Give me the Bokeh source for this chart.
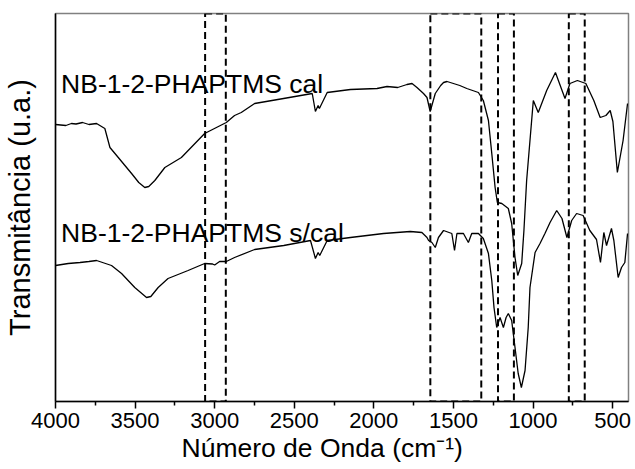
from bokeh.plotting import figure
from bokeh.models import Range1d, FixedTicker, ColumnDataSource, Title
from bokeh.core.properties import value
from bokeh.embed import file_html
from bokeh.resources import INLINE

# ---- data (wavenumber cm^-1, transmittance a.u.) ----
wn_cal = [4000, 3935, 3900, 3871, 3830, 3790, 3742, 3690, 3658, 3616, 3522, 3477, 3439, 3414, 3376, 3313, 3209,
          3063, 2927, 2875, 2833, 2749, 2567, 2387, 2367, 2350, 2342, 2293, 2147, 1980,
          1917, 1850, 1792, 1760, 1729, 1688, 1666, 1646, 1614, 1580, 1562, 1540, 1500, 1460, 1416, 1343, 1312, 1280,
          1259, 1238, 1224, 1196, 1155, 1134, 1113, 1096, 1071, 1057, 1040, 998, 967,
          914, 859, 799, 768, 721, 668, 618, 578, 542, 515, 498, 470, 434, 406]
t_cal = [277, 276, 278, 277.5, 279, 277, 278, 273, 254, 246, 228, 219, 214, 215, 221, 234, 244,
         268, 279, 286, 289, 298, 303, 308, 290, 296, 293, 309, 312, 313,
         315, 314, 317, 318, 314, 308, 304, 290, 308, 316, 319, 320, 318, 316, 313, 309, 301, 281,
         248, 214, 199, 198, 193, 178, 144, 126, 138, 171, 221, 301, 289,
         311, 329, 303, 318, 321, 318, 301, 284, 286, 291, 280, 229, 261, 298]

wn_scal = [4000, 3920, 3846, 3790, 3742, 3648, 3585, 3502, 3428, 3401, 3355, 3293, 3167, 3063, 3013,
           3000, 2969, 2927, 2875, 2749, 2566, 2398, 2367, 2350, 2340, 2293, 2147, 1939,
           1771, 1698, 1666, 1656, 1635, 1614, 1594, 1562, 1510, 1493, 1478, 1437, 1406,
           1385, 1343, 1312, 1280, 1259, 1245, 1228, 1207, 1186, 1169, 1155, 1134, 1113,
           1093, 1073, 1050, 1030, 1019, 987, 956, 925, 893, 851, 818, 787, 757, 726,
           685, 643, 601, 576, 555, 538, 507, 492, 465, 444, 423, 406]
t_scal = [136, 138, 139, 140, 141, 136, 128, 114, 104, 105, 114, 123, 131, 138, 137.5,
          136.5, 140, 140, 144, 152, 156, 161, 143, 149, 146, 161, 164, 168,
          170, 169, 164, 161, 159, 154, 164, 171, 168, 151, 168, 168, 159,
          168, 168, 163, 148, 121, 94, 74, 84, 74, 84, 88, 81, 54,
          28, 14, 31, 74, 114, 149, 158, 168, 179, 191, 183, 164, 181, 188,
          186, 171, 162, 139, 169, 156, 173, 161, 124, 134, 139, 168]

box_left = [3060, 1645, 1220, 775]
box_right = [2930, 1325, 1120, 675]

labels = ["NB-1-2-PHAPTMS cal", "NB-1-2-PHAPTMS s/cal"]
label_x = [3965, 3965]
label_y = [318, 169]

x_ticks = [4000, 3500, 3000, 2500, 2000, 1500, 1000, 500]
x_minor = [3750, 3250, 2750, 2250, 1750, 1250, 750]

x_title = "Número de Onda (cm⁻¹)"
y_title = "Transmitância (u.a.)"

FONT = "Liberation Sans"

p = figure(width=635, height=469, output_backend="svg", toolbar_location=None,
           x_range=Range1d(4000, 400), y_range=Range1d(0, 388),
           min_border_left=54, min_border_right=7, min_border_top=13, min_border_bottom=68)
p.background_fill_color = "white"
p.border_fill_color = "white"
p.grid.visible = False
p.outline_line_color = "#808080"
p.outline_line_width = 1.5

# spectra
p.line(wn_cal, t_cal, line_color="black", line_width=1.3)
p.line(wn_scal, t_scal, line_color="black", line_width=1.3)

# dashed boxes
ymin, ymax = 0, 388
p.quad(left=box_left, right=box_right, bottom=[ymin] * len(box_left), top=[ymax] * len(box_left),
       fill_alpha=0, line_color="black", line_width=2, line_dash="7 4")

# labels
src = ColumnDataSource(dict(x=label_x, y=label_y, t=labels))
p.text(x="x", y="y", text="t", source=src, text_font=value(FONT), text_font_size="26.5px",
       text_align="left", text_baseline="alphabetic", text_color="black")

# x axis
xa = p.xaxis[0]
xa.ticker = FixedTicker(ticks=x_ticks, minor_ticks=x_minor)
xa.axis_line_color = "black"
xa.axis_line_width = 1.5
xa.major_tick_out = 7
xa.major_tick_in = 0
xa.minor_tick_out = 4
xa.minor_tick_in = 0
xa.major_tick_line_width = 1.5
xa.minor_tick_line_width = 1.5
xa.major_label_text_font = FONT
xa.major_label_text_font_size = "22px"
xa.major_label_text_color = "black"
xa.major_label_standoff = 4

# x title as a below-title, shifted to where the reference has it
p.add_layout(Title(text=x_title, align="left", offset=126, text_font=FONT, text_font_size="26.5px",
                   text_font_style="normal", text_color="black", standoff=0), "below")

# y axis
ya = p.yaxis[0]
ya.ticker = FixedTicker(ticks=[])
ya.axis_line_color = "black"
ya.axis_line_width = 1.5
ya.major_tick_line_color = None
ya.minor_tick_line_color = None
ya.major_label_text_font_size = "0px"
ya.axis_label = y_title
ya.axis_label_text_font = FONT
ya.axis_label_text_font_size = "29px"
ya.axis_label_text_font_style = "normal"
ya.axis_label_text_color = "black"
ya.axis_label_standoff = 20

open("out.html", "w").write(file_html(p, INLINE))
